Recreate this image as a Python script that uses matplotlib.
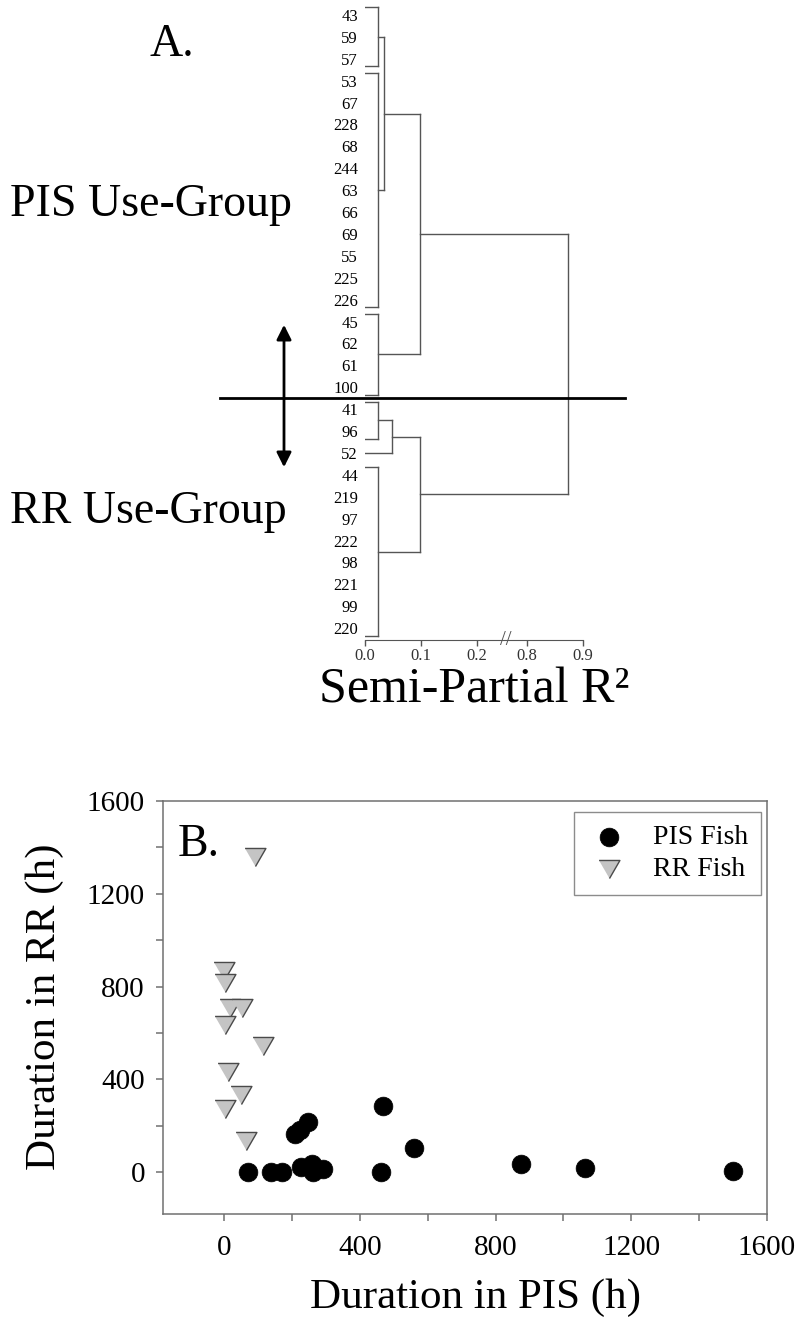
import matplotlib
matplotlib.use('Agg')
import matplotlib.pyplot as plt
import numpy as np
import matplotlib.transforms as mtransforms
from matplotlib.patches import FancyArrowPatch
from matplotlib.lines import Line2D

plt.rcParams['font.family'] = ['Liberation Serif', 'DejaVu Serif']

# ---------------- data: panel A (dendrogram) ----------------
leaf_labels = ['43', '59', '57', '53', '67', '228', '68', '244', '63', '66', '69', '55',
               '225', '226', '45', '62', '61', '100', '41', '96', '52', '44', '219', '97',
               '222', '98', '221', '99', '220']
# bracketed clusters (leaf index ranges) joined at near-zero distance
bracket_start = [0, 3, 14, 18, 21]
bracket_end = [2, 13, 17, 19, 28]
bracket_height = 0.023
single_leaf = [20]            # leaf "52"
# merges: node ids 0-4 brackets, 5 single leaf, new nodes 6..
merge_left = [0, 6, 3, 8, 7]
merge_right = [1, 2, 5, 4, 9]
merge_height = [0.034, 0.098, 0.048, 0.098, 0.873]
axis_ticks = [0.0, 0.1, 0.2, 0.8, 0.9]
axis_ticklabels = ['0.0', '0.1', '0.2', '0.8', '0.9']

# ---------------- data: panel B (scatter) ----------------
pis_x = [70, 137, 172, 209, 225, 248, 228, 258, 263, 292, 461, 469, 559, 875, 1065, 1501]
pis_y = [3, 3, 0, 165, 183, 217, 23, 37, 0, 16, 3, 287, 105, 35, 18, 4]
rr_x = [90, 0, 3, 16, 52, 4, 115, 13, 50, 3, 65]
rr_y = [1360, 868, 817, 706, 706, 633, 543, 430, 333, 271, 133]
b_ticks = [0, 400, 800, 1200, 1600]
b_minor = [200, 600, 1000, 1400]

W, H = 799, 1323
fig = plt.figure(figsize=(W / 100, H / 100), dpi=100)


def fx(px):
    return px / W


def fy(py):
    return 1 - py / H


# ================= Panel A =================
axA = fig.add_axes([fx(365), fy(640), (583 - 365) / W, 640 / H])


def fwd(v):
    v = np.asarray(v, float)
    return np.where(v <= 0.24, v,
                    np.where(v >= 0.78, v - 0.51, 0.24 + (v - 0.24) * (0.03 / 0.54)))


def inv(u):
    u = np.asarray(u, float)
    return np.where(u <= 0.24, u,
                    np.where(u >= 0.27, u + 0.51, 0.24 + (u - 0.24) * (0.54 / 0.03)))


axA.set_xscale('function', functions=(fwd, inv))
axA.set_xlim(0, 0.9)
axA.set_ylim(28.54, -0.685)

lc = '#555555'
lw = 1.0
node_x = []
node_y = []
ext = 0.35
for s, e in zip(bracket_start, bracket_end):
    axA.plot([bracket_height, bracket_height], [s - ext, e + ext], color=lc, lw=lw)
    axA.plot([0, bracket_height], [s - ext, s - ext], color=lc, lw=lw)
    axA.plot([0, bracket_height], [e + ext, e + ext], color=lc, lw=lw)
    node_x.append(bracket_height)
    node_y.append((s + e) / 2)
for leaf in single_leaf:
    node_x.append(0.0)
    node_y.append(leaf)
for a, b, h in zip(merge_left, merge_right, merge_height):
    axA.plot([node_x[a], h], [node_y[a], node_y[a]], color=lc, lw=lw)
    axA.plot([node_x[b], h], [node_y[b], node_y[b]], color=lc, lw=lw)
    axA.plot([h, h], [node_y[a], node_y[b]], color=lc, lw=lw)
    node_x.append(h)
    node_y.append((node_y[a] + node_y[b]) / 2)

axA.set_yticks(range(len(leaf_labels)))
axA.set_yticklabels(leaf_labels, fontsize=12)
axA.tick_params(axis='y', length=0, pad=5)
axA.set_xticks(axis_ticks)
axA.set_xticklabels(axis_ticklabels, fontsize=12, color='#333333')
axA.xaxis.set_minor_locator(matplotlib.ticker.NullLocator())
axA.tick_params(axis='x', direction='out', length=4, width=1, color=lc, pad=2)
for sp in ['left', 'top', 'right']:
    axA.spines[sp].set_visible(False)
axA.spines['bottom'].set_color(lc)
axA.spines['bottom'].set_bounds(0, 0.9)
axA.text(0.647, 0.0, '//', transform=axA.transAxes, ha='center', va='center',
         fontsize=15, color=lc)

# separator between use-groups
sep_y = (leaf_labels.index('100') + leaf_labels.index('41')) / 2
blend = mtransforms.blended_transform_factory(fig.transFigure, axA.transData)
axA.add_line(Line2D([fx(220), fx(625)], [sep_y, sep_y], transform=blend,
                    color='black', lw=2.0, clip_on=False))

arrow = FancyArrowPatch((fx(284), fy(470)), (fx(284), fy(322)), transform=fig.transFigure,
                        arrowstyle='<|-|>', mutation_scale=22, lw=2.0, color='black')
fig.add_artist(arrow)

fig.text(fx(172), fy(45), 'A.', fontsize=33, ha='center', va='center')
fig.text(fx(10), fy(205), 'PIS Use-Group', fontsize=33, ha='left', va='center')
fig.text(fx(10), fy(512), 'RR Use-Group', fontsize=33, ha='left', va='center')
fig.text(fx(474), fy(690), 'Semi-Partial R²', fontsize=36, ha='center', va='center')

# ================= Panel B =================
axB = fig.add_axes([fx(163), fy(1214), (767 - 163) / W, (1214 - 801) / H])
axB.set_xlim(-180, 1600)
axB.set_ylim(-180, 1600)

tri = [(-1, 0.866), (1, 0.866), (0, -0.866)]
axB.scatter(pis_x, pis_y, s=13.5 ** 2, c='black', edgecolors='black', linewidths=0.5,
            label='PIS Fish', zorder=3)
axB.scatter(rr_x, rr_y, s=15 ** 2, marker=tri, c='#c4c4c4', edgecolors='#4a4a4a',
            linewidths=1.0, label='RR Fish', zorder=3)

axB.set_xticks(b_ticks)
axB.set_yticks(b_ticks)
axB.set_xticks(b_minor, minor=True)
axB.set_yticks(b_minor, minor=True)
axB.set_xticklabels([str(t) for t in b_ticks], fontsize=21)
axB.set_yticklabels([str(t) for t in b_ticks], fontsize=21)
sc = '#707070'
axB.tick_params(which='both', direction='out', length=5, width=1.1, color=sc)
axB.tick_params(axis='y', pad=8)
axB.tick_params(axis='x', pad=10)
for sp in axB.spines.values():
    sp.set_color(sc)
    sp.set_linewidth(1.1)

leg = axB.legend(loc='upper right', bbox_to_anchor=(fx(761), fy(812)),
                 bbox_transform=fig.transFigure, borderaxespad=0, frameon=True,
                 fancybox=False, edgecolor=sc, fontsize=20, handlelength=1.6,
                 handletextpad=0.8, labelspacing=0.25, borderpad=0.45, scatterpoints=1)
leg.get_frame().set_linewidth(1.0)

fig.text(fx(178), fy(845), 'B.', fontsize=33, ha='left', va='center')
fig.text(fx(475), fy(1298), 'Duration in PIS (h)', fontsize=31, ha='center', va='center')
fig.text(fx(45), fy(1007), 'Duration in RR (h)', fontsize=31, ha='center', va='center',
         rotation=90)

fig.savefig('out.png', dpi=100)
